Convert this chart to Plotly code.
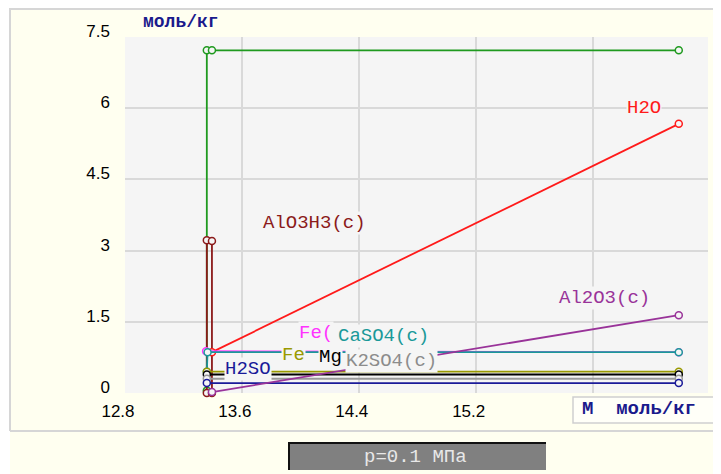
import plotly.graph_objects as go

# ---------------- data ----------------
x_tick_vals = [12.8, 13.6, 14.4, 15.2, 16.0]
x_tick_text = ["12.8", "13.6", "14.4", "15.2", ""]
y_tick_vals = [0, 1.5, 3, 4.5, 6, 7.5]
y_tick_text = ["0", "1.5", "3", "4.5", "6", "7.5"]

x_sio2 = [13.36, 13.36, 13.395, 16.59]
y_sio2 = [0.05, 7.22, 7.22, 7.22]
x_aloh = [13.36, 13.36, 13.395, 13.395]
y_aloh = [0.0, 3.22, 3.20, 0.0]
x_h2o = [13.395, 16.59]
y_h2o = [0.86, 5.67]
x_fe1 = [13.355, 16.59]
y_fe1 = [0.88, 0.86]
x_caso4 = [13.36, 13.365, 16.59]
y_caso4 = [0.45, 0.86, 0.86]
x_fe2 = [13.36, 16.59]
y_fe2 = [0.45, 0.45]
x_mg = [13.36, 16.59]
y_mg = [0.39, 0.39]
x_k2so4 = [13.36, 16.59]
y_k2so4 = [0.30, 0.30]
x_h2so4 = [13.36, 16.59]
y_h2so4 = [0.21, 0.21]
x_al2o3 = [13.395, 16.59]
y_al2o3 = [0.02, 1.64]

series = [
    ("SiO2(c)", x_sio2, y_sio2, "#1f9a1f"),
    ("AlO3H3(c)", x_aloh, y_aloh, "#8b1a1a"),
    ("H2O", x_h2o, y_h2o, "#ff1a1a"),
    ("Fe(", x_fe1, y_fe1, "#ff33ff"),
    ("CaSO4(c)", x_caso4, y_caso4, "#1a9999"),
    ("Fe", x_fe2, y_fe2, "#999900"),
    ("Mg", x_mg, y_mg, "#000000"),
    ("K2SO4(c)", x_k2so4, y_k2so4, "#999999"),
    ("H2SO", x_h2so4, y_h2so4, "#1a1a99"),
    ("Al2O3(c)", x_al2o3, y_al2o3, "#993399"),
]

# label positions (data coordinates) and texts
labels = [
    ("SiO2(c)", 13.607, 7.58, "#1f9a1f"),
    ("H2O", 16.226, 6.0, "#ff1a1a"),
    ("AlO3H3(c)", 13.737, 3.58, "#8b1a1a"),
    ("Al2O3(c)", 15.761, 2.0, "#993399"),
    ("Fe(", 13.983, 1.26, "#ff33ff"),
    ("CaSO4(c)", 14.25, 1.20, "#1a9999"),
    ("Fe", 13.867, 0.80, "#999900"),
    ("Mg", 14.12, 0.76, "#000000"),
    ("K2SO4(c)", 14.304, 0.675, "#8c8c8c"),
    ("H2SO", 13.477, 0.51, "#1a1a99"),
]

PLOT_BG = "#f5f5f5"
PAPER_BG = "#fffff0"
OFF = 8  # page body margin
W, H = 721 - OFF, 474 - OFF
L, R, T, B = 125 - OFF, 13, 37 - OFF, 81
PW = W - L - R
PH = H - T - B


def px_x(px):
    # window pixel -> paper fraction
    return (px - OFF - L) / PW


def px_y(py):
    return (H - B - (py - OFF)) / PH


fig = go.Figure()
for name, xs, ys, col in series:
    fig.add_trace(go.Scatter(
        x=xs, y=ys, mode="lines+markers", name=name,
        line=dict(color=col, width=1.8),
        marker=dict(symbol="circle", size=7, color=PLOT_BG,
                    line=dict(color=col, width=1.5)),
        cliponaxis=False, showlegend=False, hoverinfo="skip",
    ))

annotations = []
for text, x, y, col in labels:
    annotations.append(dict(
        x=x, y=y, xref="x", yref="y", text=text, showarrow=False,
        xanchor="left", yanchor="middle", bgcolor=PLOT_BG, borderpad=0,
        font=dict(family="Liberation Mono", size=19, color=col),
    ))

# y-axis unit title
annotations.append(dict(
    x=px_x(181), y=px_y(22), xref="paper", yref="paper", text="<b>моль/кг</b>",
    showarrow=False, xanchor="center", yanchor="middle",
    font=dict(family="Liberation Mono", size=18, color="#1a1a8c"),
))
# x-axis unit box text
annotations.append(dict(
    x=px_x(580), y=px_y(409), xref="paper", yref="paper", text="<b>M  моль/кг</b>",
    showarrow=False, xanchor="left", yanchor="middle",
    font=dict(family="Liberation Mono", size=19, color="#1a1a8c"),
))
# pressure box text
annotations.append(dict(
    x=px_x(415), y=px_y(457), xref="paper", yref="paper", text="p=0.1 МПа",
    showarrow=False, xanchor="center", yanchor="middle",
    font=dict(family="Liberation Mono", size=19, color="#e8e8e8"),
))

shapes = [
    # white outer strip at left
    dict(type="rect", xref="paper", yref="paper", x0=px_x(6), x1=px_x(10),
         y0=px_y(476), y1=px_y(6), fillcolor="white", line_width=0, layer="below"),
    # panel border lines
    dict(type="line", xref="paper", yref="paper", x0=px_x(10), x1=px_x(10),
         y0=px_y(8), y1=px_y(431), line=dict(color="#d6d6d6", width=2)),
    dict(type="line", xref="paper", yref="paper", x0=px_x(10), x1=px_x(723),
         y0=px_y(9), y1=px_y(9), line=dict(color="#d6d6d6", width=2)),
    dict(type="line", xref="paper", yref="paper", x0=px_x(10), x1=px_x(723),
         y0=px_y(431), y1=px_y(431), line=dict(color="#d6d6d6", width=2)),
    # x unit box
    dict(type="rect", xref="paper", yref="paper", x0=px_x(573), x1=px_x(725),
         y0=px_y(423), y1=px_y(397), fillcolor="#fffff8",
         line=dict(color="#cfcfcf", width=1.5)),
    # pressure box
    dict(type="rect", xref="paper", yref="paper", x0=px_x(288), x1=px_x(546),
         y0=px_y(470), y1=px_y(442), fillcolor="#808080", line_width=0),
    dict(type="line", xref="paper", yref="paper", x0=px_x(288), x1=px_x(546),
         y0=px_y(443), y1=px_y(443), line=dict(color="#111111", width=2)),
    dict(type="line", xref="paper", yref="paper", x0=px_x(289), x1=px_x(289),
         y0=px_y(442), y1=px_y(470), line=dict(color="#111111", width=2)),
]

fig.update_layout(
    width=W, height=H,
    margin=dict(l=L, r=R, t=T, b=B, pad=0),
    paper_bgcolor=PAPER_BG, plot_bgcolor=PLOT_BG,
    annotations=annotations, shapes=shapes,
    xaxis=dict(range=[12.8, 16.79], tickmode="array", tickvals=x_tick_vals,
               ticktext=x_tick_text, showgrid=True, gridcolor="#d9d9d9",
               gridwidth=1.5, zeroline=False, showline=False, ticks="",
               ticklabelshift=-7, ticklabelstandoff=6,
               tickfont=dict(family="Liberation Sans", size=17, color="black")),
    yaxis=dict(range=[0, 7.5], tickmode="array", tickvals=y_tick_vals,
               ticktext=y_tick_text, showgrid=True, gridcolor="#d9d9d9",
               gridwidth=1.5, zeroline=False, showline=False, ticks="",
               ticklabelshift=-6, ticklabelstandoff=14,
               tickfont=dict(family="Liberation Sans", size=17, color="black")),
)

fig.write_html("out.html")
